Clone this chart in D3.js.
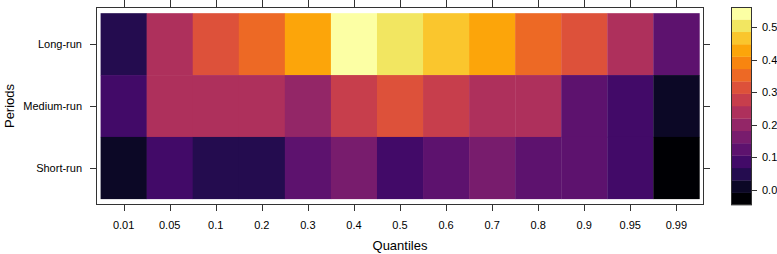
<!DOCTYPE html>
<meta charset="utf-8">
<style>
  body { margin: 0; background: #fff; }
  text { font-family: "Liberation Sans", Arial, sans-serif; fill: #000; }
</style>
<svg width="777" height="254"></svg>
<script src="https://cdn.jsdelivr.net/npm/d3@7"></script>
<script>
  var quantiles = ["0.01", "0.05", "0.1", "0.2", "0.3", "0.4", "0.5", "0.6", "0.7", "0.8", "0.9", "0.95", "0.99"];
  var periods = ["Long-run", "Medium-run", "Short-run"];

  var longRun   = [0.05, 0.24, 0.31, 0.35, 0.43, 0.561, 0.50, 0.47, 0.43, 0.35, 0.31, 0.24, 0.12];
  var mediumRun = [0.09, 0.24, 0.24, 0.23, 0.20, 0.28, 0.31, 0.27, 0.24, 0.24, 0.12, 0.09, 0.01];
  var shortRun  = [0.01, 0.09, 0.05, 0.05, 0.12, 0.16, 0.09, 0.13, 0.16, 0.13, 0.12, 0.09, -0.046];

  var colorTicks = [0.0, 0.1, 0.2, 0.3, 0.4, 0.5];
  var cuts = 16;

  var svg = d3.select("svg"),
      panel = {left: 96, right: 704, top: 7, bottom: 205},
      key = {left: 731, right: 752};

  var rows = [longRun, mediumRun, shortRun];
  var cells = [];
  rows.forEach(function(vals, i) {
    vals.forEach(function(v, j) {
      cells.push({period: periods[i], q: quantiles[j], value: v});
    });
  });

  var ext = d3.extent(cells, function(d) { return d.value; });
  var step = (ext[1] - ext[0]) / cuts;
  var breaks = d3.range(cuts + 1).map(function(k) { return ext[0] + k * step; });

  function binOf(v) {
    return Math.max(0, Math.min(cuts - 1, Math.floor((v - ext[0]) / step)));
  }
  function colorOf(k) { return d3.interpolateInferno(k / (cuts - 1)); }

  var x = d3.scaleBand()
      .domain(quantiles)
      .range([panel.left, panel.right])
      .paddingInner(0)
      .paddingOuter(0.1);

  var y = d3.scaleBand()
      .domain(periods)
      .range([panel.top, panel.bottom])
      .paddingInner(0)
      .paddingOuter(0.1);

  svg.append("g")
    .selectAll("rect")
    .data(cells)
    .enter().append("rect")
      .attr("x", function(d) { return x(d.q); })
      .attr("y", function(d) { return y(d.period); })
      .attr("width", x.bandwidth() + 0.3)
      .attr("height", y.bandwidth() + 0.3)
      .attr("fill", function(d) { return colorOf(binOf(d.value)); });

  svg.append("rect")
      .attr("x", panel.left + 0.5)
      .attr("y", panel.top + 0.5)
      .attr("width", panel.right - panel.left - 1)
      .attr("height", panel.bottom - panel.top - 1)
      .attr("fill", "none")
      .attr("stroke", "#333")
      .attr("stroke-width", 1);

  var xc = function(d) { return x(d) + x.bandwidth() / 2; };
  var yc = function(d) { return y(d) + y.bandwidth() / 2; };

  // ticks on all four sides, labels only bottom/left
  var axes = svg.append("g").attr("stroke", "#333").attr("stroke-width", 1);
  quantiles.forEach(function(q) {
    var px = Math.round(xc(q)) + 0.5;
    axes.append("line").attr("x1", px).attr("x2", px).attr("y1", panel.bottom).attr("y2", panel.bottom + 6);
    axes.append("line").attr("x1", px).attr("x2", px).attr("y1", panel.top).attr("y2", panel.top - 7);
  });
  periods.forEach(function(p) {
    var py = Math.round(yc(p)) + 0.5;
    axes.append("line").attr("y1", py).attr("y2", py).attr("x1", panel.left).attr("x2", panel.left - 6);
    axes.append("line").attr("y1", py).attr("y2", py).attr("x1", panel.right).attr("x2", panel.right + 6);
  });

  svg.append("g").selectAll("text")
    .data(quantiles)
    .enter().append("text")
      .attr("x", xc)
      .attr("y", 225)
      .attr("dy", "0.35em")
      .attr("text-anchor", "middle")
      .attr("font-size", 11)
      .text(function(d) { return d; });

  svg.append("g").selectAll("text")
    .data(periods)
    .enter().append("text")
      .attr("x", 82)
      .attr("y", yc)
      .attr("dy", "0.35em")
      .attr("text-anchor", "end")
      .attr("font-size", 11)
      .text(function(d) { return d; });

  svg.append("text")
      .attr("x", (panel.left + panel.right) / 2)
      .attr("y", 250)
      .attr("text-anchor", "middle")
      .attr("font-size", 13)
      .text("Quantiles");

  svg.append("text")
      .attr("transform", "translate(9," + (panel.top + panel.bottom) / 2 + ") rotate(-90)")
      .attr("dy", "0.35em")
      .attr("text-anchor", "middle")
      .attr("font-size", 13)
      .text("Periods");

  // colour key
  var ky = d3.scaleLinear().domain(ext).range([panel.bottom, panel.top]);

  svg.append("g").selectAll("rect")
    .data(d3.range(cuts))
    .enter().append("rect")
      .attr("x", key.left)
      .attr("width", key.right - key.left)
      .attr("y", function(k) { return ky(breaks[k + 1]); })
      .attr("height", function(k) { return ky(breaks[k]) - ky(breaks[k + 1]) + 0.3; })
      .attr("fill", colorOf);

  svg.append("rect")
      .attr("x", key.left + 0.5)
      .attr("y", panel.top + 0.5)
      .attr("width", key.right - key.left - 1)
      .attr("height", panel.bottom - panel.top - 1)
      .attr("fill", "none")
      .attr("stroke", "#333");

  var keyAxis = svg.append("g");
  colorTicks.forEach(function(t) {
    var py = Math.round(ky(t)) + 0.5;
    keyAxis.append("line")
        .attr("x1", key.right).attr("x2", key.right + 5)
        .attr("y1", py).attr("y2", py)
        .attr("stroke", "#333");
    keyAxis.append("text")
        .attr("x", key.right + 10)
        .attr("y", py)
        .attr("dy", "0.35em")
        .attr("font-size", 11)
        .text(d3.format(".1f")(t));
  });
</script>
